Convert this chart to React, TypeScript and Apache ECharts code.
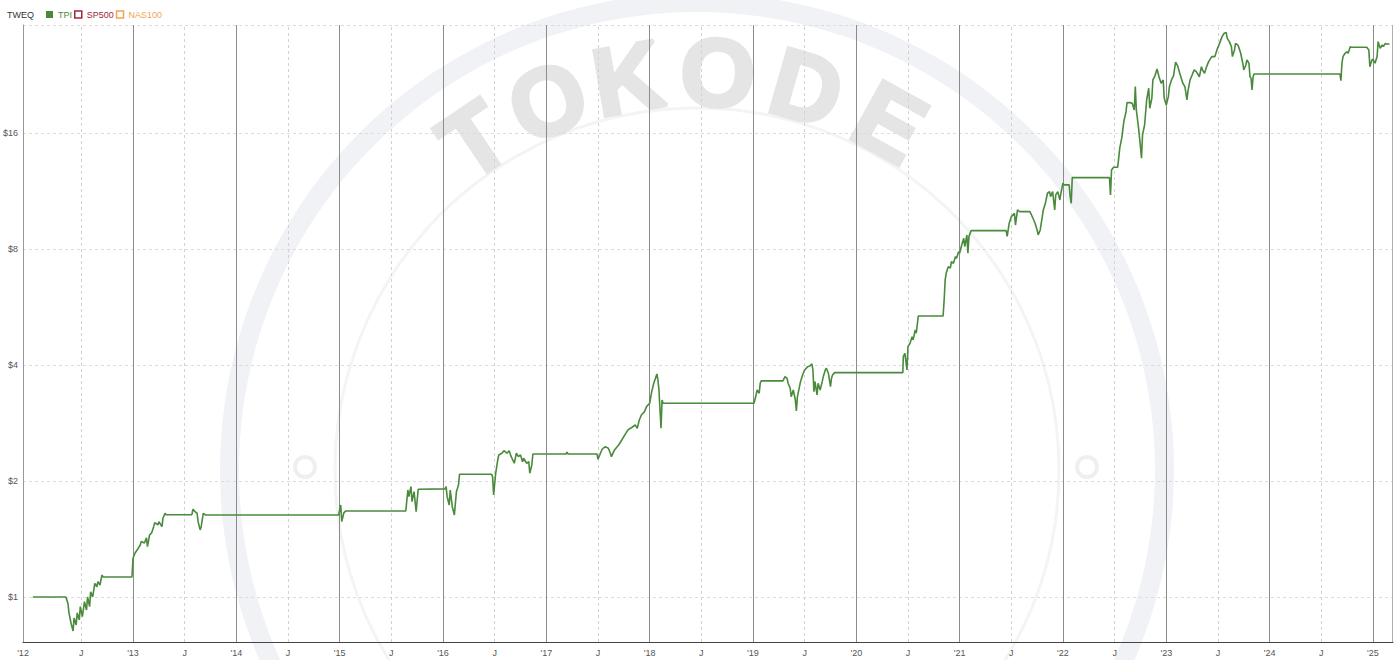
import { useEffect, useRef } from 'react';
import * as echarts from 'echarts';

// Axis extents (decimal years / dollars on a base-2 log scale)
const X_MIN = 2011.9355;
const X_MAX = 2025.194;
const Y_MIN = 0.764;
const Y_MAX = 30.5;

// TPI equity curve: decimal year and value ($)
const dates = [
  2012.03, 2012.35, 2012.37, 2012.38, 2012.40, 2012.42, 2012.43, 2012.45, 2012.46, 2012.48,
  2012.49, 2012.51, 2012.53, 2012.55, 2012.56, 2012.58, 2012.59, 2012.61, 2012.63, 2012.65,
  2012.66, 2012.68, 2012.70, 2012.71, 2012.99, 2013.00, 2013.02, 2013.04, 2013.07, 2013.08,
  2013.11, 2013.13, 2013.14, 2013.16, 2013.18, 2013.20, 2013.21, 2013.24, 2013.25, 2013.28,
  2013.29, 2013.31, 2013.32, 2013.57, 2013.58, 2013.60, 2013.62, 2013.63, 2013.65, 2013.66,
  2013.68, 2013.70, 2014.99, 2015.01, 2015.02, 2015.04, 2015.06, 2015.64, 2015.66, 2015.67,
  2015.69, 2015.70, 2015.72, 2015.74, 2015.76, 2016.02, 2016.03, 2016.04, 2016.06, 2016.07,
  2016.09, 2016.11, 2016.13, 2016.15, 2016.16, 2016.47, 2016.48, 2016.49, 2016.51, 2016.53,
  2016.54, 2016.57, 2016.59, 2016.62, 2016.64, 2016.66, 2016.69, 2016.71, 2016.73, 2016.75,
  2016.77, 2016.78, 2016.81, 2016.83, 2016.84, 2016.86, 2016.87, 2017.19, 2017.20, 2017.21,
  2017.49, 2017.50, 2017.54, 2017.57, 2017.60, 2017.62, 2017.63, 2017.66, 2017.70, 2017.73,
  2017.76, 2017.79, 2017.83, 2017.86, 2017.88, 2017.90, 2017.92, 2017.95, 2017.97, 2018.00,
  2018.02, 2018.04, 2018.07, 2018.08, 2018.09, 2018.11, 2018.12, 2018.13, 2019.01, 2019.03,
  2019.04, 2019.06, 2019.07, 2019.08, 2019.29, 2019.31, 2019.33, 2019.34, 2019.36, 2019.37,
  2019.39, 2019.41, 2019.42, 2019.43, 2019.45, 2019.46, 2019.48, 2019.50, 2019.53, 2019.55,
  2019.57, 2019.58, 2019.59, 2019.60, 2019.62, 2019.63, 2019.65, 2019.67, 2019.68, 2019.70,
  2019.71, 2019.73, 2019.75, 2019.76, 2019.77, 2019.79, 2020.45, 2020.455, 2020.47, 2020.49,
  2020.50, 2020.52, 2020.54, 2020.55, 2020.57, 2020.58, 2020.60, 2020.84, 2020.85, 2020.86,
  2020.87, 2020.89, 2020.91, 2020.92, 2020.94, 2020.96, 2020.97, 2020.99, 2021.00, 2021.02,
  2021.04, 2021.05, 2021.07, 2021.08, 2021.09, 2021.11, 2021.45, 2021.46, 2021.48, 2021.50,
  2021.53, 2021.54, 2021.56, 2021.58, 2021.68, 2021.71, 2021.73, 2021.75, 2021.76, 2021.78,
  2021.80, 2021.81, 2021.83, 2021.85, 2021.87, 2021.88, 2021.90, 2021.92, 2021.93, 2021.95,
  2021.97, 2021.98, 2022.00, 2022.01, 2022.06, 2022.07, 2022.08, 2022.09, 2022.45, 2022.46,
  2022.47, 2022.49, 2022.53, 2022.55, 2022.57, 2022.59, 2022.61, 2022.62, 2022.65, 2022.67,
  2022.69, 2022.70, 2022.71, 2022.73, 2022.75, 2022.76, 2022.77, 2022.79, 2022.81, 2022.83,
  2022.84, 2022.86, 2022.87, 2022.89, 2022.91, 2022.93, 2022.95, 2022.97, 2022.98, 2023.00,
  2023.02, 2023.03, 2023.05, 2023.07, 2023.09, 2023.11, 2023.13, 2023.16, 2023.18, 2023.20,
  2023.21, 2023.23, 2023.25, 2023.27, 2023.29, 2023.32, 2023.34, 2023.35, 2023.37, 2023.39,
  2023.41, 2023.44, 2023.47, 2023.49, 2023.51, 2023.54, 2023.56, 2023.58, 2023.59, 2023.61,
  2023.63, 2023.64, 2023.66, 2023.67, 2023.69, 2023.70, 2023.72, 2023.74, 2023.75, 2023.77,
  2023.78, 2023.80, 2023.81, 2023.82, 2023.83, 2023.84, 2023.85, 2024.68, 2024.69, 2024.70,
  2024.71, 2024.73, 2024.75, 2024.76, 2024.78, 2024.79, 2024.94, 2024.96, 2024.97, 2024.99,
  2025.00, 2025.02, 2025.04, 2025.05, 2025.07, 2025.09, 2025.10, 2025.12, 2025.13, 2025.16,
];

const tpi = [
  1.00, 1.00, 0.963, 0.911, 0.856, 0.816, 0.882, 0.846, 0.909, 0.872,
  0.944, 0.889, 0.972, 0.925, 1.00, 0.944, 1.032, 1.00, 1.085, 1.063,
  1.096, 1.074, 1.140, 1.127, 1.127, 1.260, 1.300, 1.324, 1.364, 1.392,
  1.381, 1.423, 1.351, 1.448, 1.466, 1.522, 1.559, 1.538, 1.568, 1.522,
  1.600, 1.649, 1.635, 1.635, 1.689, 1.665, 1.649, 1.568, 1.493, 1.522,
  1.649, 1.632, 1.632, 1.733, 1.568, 1.652, 1.672, 1.672, 1.895, 1.821,
  1.933, 1.768, 1.876, 1.665, 1.903, 1.907, 1.933, 1.821, 1.733, 1.895,
  1.715, 1.632, 1.876, 1.953, 2.082, 2.082, 2.052, 1.839, 2.094, 2.267,
  2.336, 2.360, 2.397, 2.360, 2.397, 2.312, 2.223, 2.360, 2.312, 2.336,
  2.244, 2.291, 2.223, 2.244, 2.094, 2.201, 2.350, 2.350, 2.374, 2.350,
  2.350, 2.277, 2.417, 2.455, 2.432, 2.360, 2.312, 2.407, 2.480, 2.555,
  2.633, 2.713, 2.757, 2.795, 2.740, 2.880, 2.967, 3.026, 3.118, 3.182,
  3.411, 3.586, 3.790, 3.657, 3.444, 2.740, 3.245, 3.182, 3.182, 3.343,
  3.444, 3.378, 3.586, 3.636, 3.636, 3.730, 3.694, 3.586, 3.480, 3.310,
  3.444, 3.245, 3.038, 3.310, 3.513, 3.620, 3.768, 3.883, 3.960, 3.976,
  4.025, 3.883, 3.411, 3.620, 3.343, 3.586, 3.444, 3.620, 3.730, 3.883,
  3.922, 3.806, 3.513, 3.694, 3.768, 3.821, 3.821, 4.204, 4.290, 3.883,
  4.463, 4.554, 4.738, 4.646, 4.931, 4.834, 5.360, 5.360, 5.898, 6.648,
  6.919, 7.197, 7.130, 7.416, 7.345, 7.643, 7.569, 7.874, 7.798, 8.193,
  8.526, 8.112, 8.700, 7.798, 8.612, 8.925, 8.925, 8.62, 9.33, 9.70,
  9.90, 9.23, 10.10, 10.00, 10.00, 9.61, 9.33, 8.96, 8.70, 8.96,
  9.70, 10.10, 10.51, 11.16, 11.27, 10.94, 11.27, 10.10, 11.05, 11.27,
  10.72, 11.16, 11.85, 11.73, 11.73, 10.94, 10.51, 12.25, 12.25, 11.05,
  12.83, 13.04, 13.04, 14.63, 15.58, 17.19, 18.14, 19.18, 19.18, 19.10,
  18.36, 21.10, 18.36, 16.62, 14.74, 13.76, 15.81, 16.78, 19.49, 20.90,
  18.55, 19.69, 21.96, 22.49, 23.46, 22.36, 21.53, 21.96, 19.69, 18.91,
  19.88, 21.10, 21.96, 22.49, 24.43, 23.89, 22.86, 21.53, 21.10, 19.49,
  20.57, 21.96, 22.63, 23.32, 23.08, 22.39, 23.78, 23.32, 22.86, 23.78,
  24.51, 25.25, 25.25, 26.28, 27.08, 28.45, 29.03, 29.14, 28.17, 27.61,
  26.80, 25.25, 26.28, 27.34, 27.08, 26.80, 25.76, 24.27, 23.32, 24.02,
  24.75, 24.27, 22.39, 22.19, 20.69, 22.39, 22.76, 22.76, 21.87, 24.27,
  25.25, 25.76, 26.01, 25.76, 26.80, 26.70, 26.70, 26.28, 23.78, 24.75,
  24.85, 24.27, 25.25, 27.61, 26.54, 27.08, 26.80, 27.34, 27.23, 27.23,
];

// Benchmarks are switched off in the reference (legend only)
const sp500: [number, number][] = [];
const nas100: [number, number][] = [];

// Grid / tick positions
const yearLines = [2013, 2014, 2015, 2016, 2017, 2018, 2019, 2020, 2021, 2022, 2023, 2024, 2025];
const julyLines = [2012.5, 2013.5, 2014.5, 2015.5, 2016.5, 2017.5, 2018.5, 2019.5, 2020.5, 2021.5, 2022.5, 2023.5, 2024.5];
const xLabelValues = [X_MIN, ...julyLines, ...yearLines].sort((a, b) => a - b);

const GREEN = '#4a8a3c';
const SP_COLOR = '#a3273b';
const NAS_COLOR = '#f0a356';
const FONT = '"Liberation Sans", Arial, sans-serif';

// Watermark letters along the arc
const wmLetters = ['T', 'O', 'K', 'O', 'D', 'E'];
const wmAngles = [-34, -22, -10, 3, 16, 29];

export default function App() {
  const ref = useRef<HTMLDivElement>(null);

  useEffect(() => {
    if (!ref.current) return;
    const chart = echarts.init(ref.current, null, { renderer: 'svg' });
    const cx = 697;
    const cy = 470;
    const wmR = 398;

    const graphics: any[] = [
      { type: 'ring', z: -10, silent: true, shape: { cx, cy, r: 477, r0: 458 }, style: { fill: '#f0f2f6' } },
      { type: 'circle', z: -10, silent: true, shape: { cx, cy, r: 362 }, style: { fill: 'none', stroke: '#f4f4f4', lineWidth: 3 } },
      { type: 'ring', z: -10, silent: true, shape: { cx: 305, cy: 467, r: 12, r0: 8 }, style: { fill: '#efefef' } },
      { type: 'ring', z: -10, silent: true, shape: { cx: 1087, cy: 467, r: 12, r0: 8 }, style: { fill: '#efefef' } },
      ...wmLetters.map((ch, i) => {
        const a = (wmAngles[i] * Math.PI) / 180;
        return {
          type: 'text',
          z: -10,
          silent: true,
          x: cx + wmR * Math.sin(a),
          y: cy - wmR * Math.cos(a),
          rotation: -a,
          style: {
            text: ch,
            fill: '#e5e5e5',
            stroke: '#e5e5e5',
            lineWidth: 4,
            font: `bold 96px ${FONT}`,
            align: 'center',
            verticalAlign: 'middle',
          },
        };
      }),
    ];

    chart.setOption({
      animation: false,
      backgroundColor: '#ffffff',
      textStyle: { fontFamily: FONT },
      title: {
        text: 'TWEQ',
        left: 7,
        top: 10,
        padding: 0,
        textStyle: { fontSize: 9, fontWeight: 'normal', color: '#333', fontFamily: FONT },
      },
      legend: {
        left: 46,
        top: 10,
        padding: 0,
        itemWidth: 7,
        itemHeight: 7,
        itemGap: 2,
        selectedMode: false,
        textStyle: { fontSize: 9, fontFamily: FONT },
        data: [
          { name: 'TPI', icon: 'rect', itemStyle: { color: GREEN }, textStyle: { color: GREEN } },
          { name: 'SP500', icon: 'rect', itemStyle: { color: '#ffffff', borderColor: SP_COLOR, borderWidth: 1.5 }, textStyle: { color: SP_COLOR } },
          { name: 'NAS100', icon: 'rect', itemStyle: { color: '#ffffff', borderColor: NAS_COLOR, borderWidth: 1.5 }, textStyle: { color: NAS_COLOR } },
        ],
      },
      graphic: { elements: graphics },
      grid: { left: 23, right: 7, top: 25, bottom: 18, containLabel: false },
      xAxis: {
        type: 'value',
        min: X_MIN,
        max: X_MAX,
        splitLine: { show: false },
        axisTick: { show: false },
        axisLine: { show: true, lineStyle: { color: '#444', width: 1 } },
        axisLabel: {
          customValues: xLabelValues,
          color: '#555',
          fontSize: 9,
          margin: 6,
          formatter: (v: number) => {
            const r = Math.round(v);
            if (Math.abs(v - r) < 0.1) return "'" + String(r).slice(2);
            return 'J';
          },
        },
      },
      yAxis: {
        type: 'log',
        logBase: 2,
        min: Y_MIN,
        max: Y_MAX,
        axisTick: { show: false },
        axisLine: { show: true, lineStyle: { color: '#999', width: 1 } },
        splitLine: { show: true, lineStyle: { color: '#dcdcdc', type: [3, 3], width: 1 } },
        axisLabel: {
          showMinLabel: false,
          showMaxLabel: false,
          color: '#555',
          fontSize: 9,
          margin: 5,
          formatter: (v: number) => '$' + Math.round(v),
        },
      },
      series: [
        {
          name: 'grid-lines',
          type: 'line',
          data: [],
          z: 1,
          silent: true,
          markLine: {
            silent: true,
            z: 1,
            symbol: ['none', 'none'],
            label: { show: false },
            emphasis: { disabled: true },
            data: [
              ...yearLines.map((v) => ({ xAxis: v, lineStyle: { color: '#8c8c8c', type: 'solid', width: 1 } })),
              ...julyLines.map((v) => ({ xAxis: v, lineStyle: { color: '#d2d2d2', type: [3, 3], width: 1 } })),
              { xAxis: X_MAX, lineStyle: { color: '#b0b0b0', type: 'solid', width: 1 } },
            ],
          },
        },
        {
          name: 'TPI',
          type: 'line',
          z: 5,
          data: dates.map((d, i) => [d, tpi[i]]),
          showSymbol: false,
          symbol: 'none',
          lineStyle: { color: GREEN, width: 1.6 },
          itemStyle: { color: GREEN },
        },
        { name: 'SP500', type: 'line', data: sp500, showSymbol: false, itemStyle: { color: SP_COLOR } },
        { name: 'NAS100', type: 'line', data: nas100, showSymbol: false, itemStyle: { color: NAS_COLOR } },
      ],
    });

    return () => chart.dispose();
  }, []);

  return (
    <div
      ref={ref}
      style={{ position: 'absolute', left: 0, top: 0, width: 1400, height: 660, background: '#fff' }}
    />
  );
}
